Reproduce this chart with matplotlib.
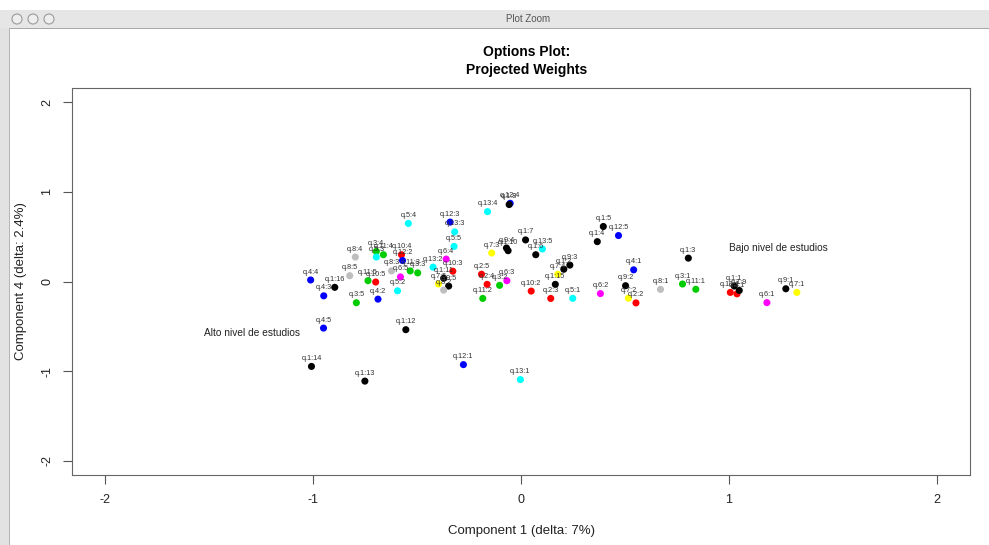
import matplotlib
matplotlib.use("Agg")
import matplotlib.pyplot as plt
from matplotlib.patches import Rectangle, Ellipse

plt.rcParams['font.family'] = ['Liberation Sans', 'DejaVu Sans']
plt.rcParams['axes.unicode_minus'] = False

# category labels (question:level) and projected weights
labels = ["q.5:4", "q.12:3", "q.13:3", "q.5:5", "q.8:4", "q.3:4", "q.5:3", "q.11:4",
          "q.10:4", "q.12:2", "q.8:3", "q.6:5", "q.11:3", "q.3:3", "q.13:2", "q.6:4",
          "q.10:3", "q.1:11", "q.9:5", "q.7:5", "q.8:2", "q.4:4", "q.1:16", "q.4:3",
          "q.8:5", "q.11:5", "q.10:5", "q.3:5", "q.4:2", "q.5:2", "q.12:4", "q.1:8",
          "q.13:4", "q.1:7", "q.13:5", "q.1:6", "q.9:4", "q.1:10", "q.7:3", "q.2:5",
          "q.2:4", "q.3:2", "q.6:3", "q.11:2", "q.10:2", "q.2:3", "q.5:1", "q.6:2",
          "q.1:15", "q.7:4", "q.1:2", "q.9:3", "q.1:5", "q.1:4", "q.12:5", "q.1:3",
          "q.4:1", "q.9:2", "q.7:2", "q.2:2", "q.8:1", "q.3:1", "q.11:1", "q.10:1",
          "q.2:1", "q.1:1", "q.1:9", "q.6:1", "q.9:1", "q.7:1", "q.4:5", "q.1:12",
          "q.1:14", "q.1:13", "q.12:1", "q.13:1"]
comp1 = [-0.542, -0.341, -0.319, -0.322, -0.797, -0.696, -0.696, -0.662,
         -0.575, -0.570, -0.623, -0.580, -0.533, -0.497, -0.423, -0.360,
         -0.328, -0.372, -0.348, -0.397, -0.372, -1.012, -0.896, -0.949,
         -0.824, -0.736, -0.699, -0.792, -0.688, -0.594, -0.052, -0.057,
         -0.161, 0.022, 0.103, 0.071, -0.070, -0.062, -0.141, -0.190,
         -0.163, -0.103, -0.068, -0.184, 0.049, 0.143, 0.249, 0.382,
         0.165, 0.177, 0.206, 0.235, 0.396, 0.367, 0.469, 0.805,
         0.542, 0.503, 0.517, 0.553, 0.671, 0.777, 0.841, 1.007,
         1.039, 1.026, 1.050, 1.183, 1.274, 1.327, -0.950, -0.554,
         -1.008, -0.751, -0.277, -0.003]
comp4 = [0.648, 0.663, 0.554, 0.392, 0.273, 0.336, 0.273, 0.299,
         0.299, 0.234, 0.118, 0.051, 0.118, 0.096, 0.160, 0.250,
         0.115, 0.036, -0.051, -0.028, -0.096, 0.017, -0.065, -0.160,
         0.065, 0.009, -0.006, -0.237, -0.197, -0.104, 0.873, 0.859,
         0.780, 0.464, 0.363, 0.299, 0.374, 0.344, 0.318, 0.081,
         -0.032, -0.043, 0.009, -0.189, -0.107, -0.189, -0.188, -0.135,
         -0.032, 0.081, 0.137, 0.183, 0.614, 0.445, 0.513, 0.261,
         0.130, -0.047, -0.186, -0.239, -0.088, -0.028, -0.087, -0.122,
         -0.138, -0.051, -0.100, -0.236, -0.081, -0.122, -0.520, -0.538,
         -0.948, -1.112, -0.928, -1.095]

groups = ["Alto nivel de estudios", "Bajo nivel de estudios"]
group_x = [-1.295, 1.237]
group_y = [-0.577, 0.377]

# R default palette, cycled by question number
palette = ["black", "red", "#00CD00", "blue", "cyan", "magenta", "yellow", "#BEBEBE"]
colors = [palette[(int(l.split(".")[1].split(":")[0]) - 1) % 8] for l in labels]

fig = plt.figure(figsize=(9.89, 5.45), dpi=100)
W, H = 989, 545

# window chrome of the screenshot
fig.patches.append(Rectangle((0, 1 - 28 / H), 1, 18 / H, transform=fig.transFigure,
                             facecolor="#e6e6e6", edgecolor="none"))
fig.patches.append(Rectangle((0, 1 - 28.5 / H), 1, 1 / H, transform=fig.transFigure,
                             facecolor="#a8a8a8", edgecolor="none"))
fig.patches.append(Rectangle((0, 0), 9 / W, 1 - 28 / H, transform=fig.transFigure,
                             facecolor="#e2e2e2", edgecolor="none"))
fig.patches.append(Rectangle((9 / W, 0), 1 / W, 1 - 28 / H, transform=fig.transFigure,
                             facecolor="#b5b5b5", edgecolor="none"))
for cx in [17, 33, 49]:
    fig.patches.append(Ellipse((cx / W, 1 - 19 / H), 10 / W, 10 / H, transform=fig.transFigure,
                               facecolor="#eeeeee", edgecolor="#9a9a9a", lw=0.8))
fig.text(528 / W, 1 - 19 / H, "Plot Zoom", ha="center", va="center", fontsize=7, color="#555555")

ax = fig.add_axes([72 / W, 70 / H, 898 / W, 387 / H])
ax.scatter(comp1, comp4, c=colors, s=26, edgecolors="none", zorder=3)
for l, x, y in zip(labels, comp1, comp4):
    ax.annotate(l, (x, y), xytext=(0, 3.2), textcoords="offset points",
                ha="center", va="bottom", fontsize=5.3, color="#333333", zorder=4)
for g, x, y in zip(groups, group_x, group_y):
    ax.text(x, y, g, ha="center", va="center", fontsize=7.3, color="#222222")

ax.set_xlim(-2.16, 2.16)
ax.set_ylim(-2.16, 2.16)
ax.set_xticks([-2, -1, 0, 1, 2])
ax.set_yticks([-2, -1, 0, 1, 2])
ax.tick_params(direction="out", length=6.5, width=0.8, color="#555555",
               labelsize=9, pad=7, labelcolor="#222222")
for lab in ax.get_yticklabels():
    lab.set_rotation(90)
    lab.set_va("center")
for s in ax.spines.values():
    s.set_color("#666666")
    s.set_linewidth(0.8)

ax.set_xlabel("Component 1 (delta: 7%)", fontsize=9.5, labelpad=14, color="#222222")
ax.set_ylabel("Component 4 (delta: 2.4%)", fontsize=9.5, labelpad=10, color="#222222")
fig.text(527 / W, 1 - 61 / H, "Options Plot:\nProjected Weights", ha="center", va="center",
         fontsize=10, fontweight="bold", linespacing=1.35)

fig.savefig("out.png", dpi=100)
